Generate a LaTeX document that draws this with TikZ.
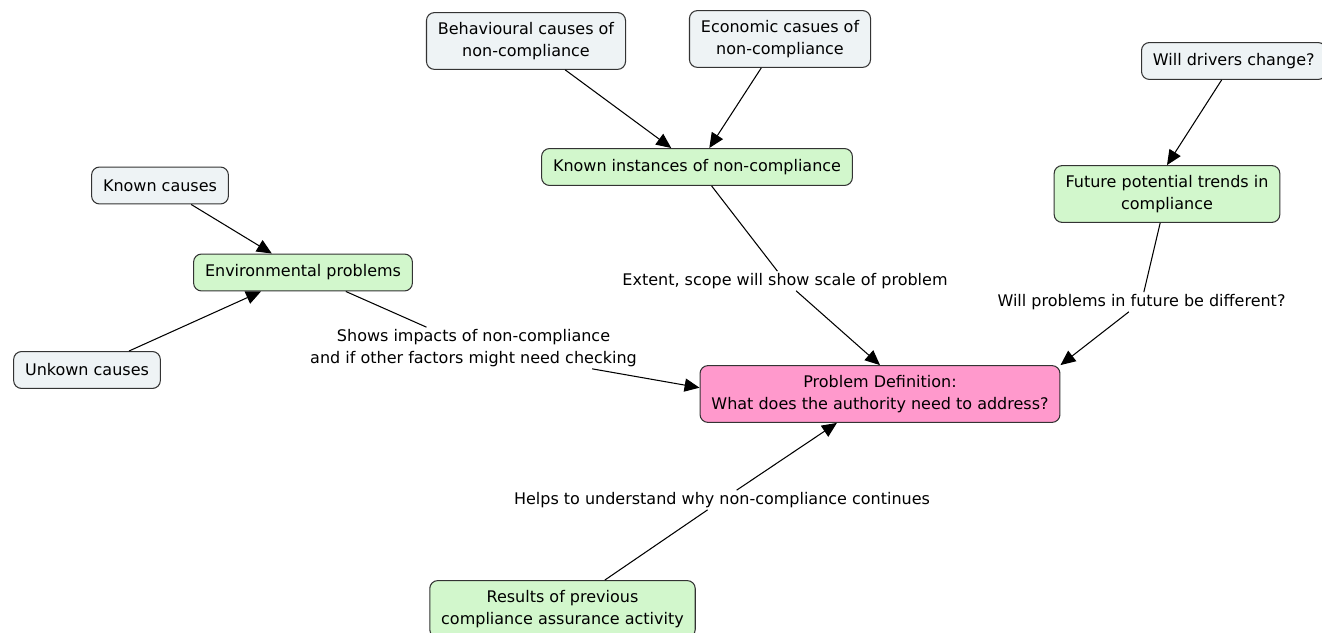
\documentclass[tikz,border=0pt]{standalone}
\usepackage{fontspec}
\setmainfont{DejaVu Sans}
\usepackage{tikz}
\usetikzlibrary{arrows.meta}

\definecolor{causegray}{HTML}{EEF3F5}
\definecolor{topicgreen}{HTML}{D2F7CC}
\definecolor{goalpink}{HTML}{FF99CC}

\begin{document}
\begin{tikzpicture}[
    font=\fontsize{9.1}{12.5}\selectfont,
    concept/.style={draw=black!80, line width=0.6pt, rounded corners=4.5pt, align=center, inner xsep=6.5pt, inner ysep=5.5pt, minimum height=21pt},
    cause/.style={concept, fill=causegray},
    topic/.style={concept, fill=topicgreen},
    goal/.style={concept, fill=goalpink},
    linkphrase/.style={inner sep=1pt, align=center},
    link/.style={line width=0.6pt, -{Triangle[length=8.5pt, width=7.5pt]}}
]
    \useasboundingbox (0, 0) rectangle (26.44, 12.64);

    \node[cause] (behav) at (10.52, 11.82) {Behavioural causes of\\non-compliance};
    \node[cause] (econ) at (15.6, 11.86) {Economic casues of\\non-compliance};
    \node[topic] (known) at (13.94, 9.3) {Known instances of non-compliance};

    \node[cause, anchor=west] (drivers) at (22.82, 11.42) {Will drivers change?};
    \node[topic] (future) at (23.34, 8.76) {Future potential trends in\\compliance};

    \node[cause] (kcause) at (3.2, 8.93) {Known causes};
    \node[topic] (env) at (6.06, 7.19) {Environmental problems};
    \node[cause] (ucause) at (1.74, 5.24) {Unkown causes};

    \node[goal] (prob) at (17.6, 4.76) {Problem Definition:\\What does the authority need to address?};
    \node[topic] (result) at (11.25, 0.46) {Results of previous\\compliance assurance activity};

    \node[linkphrase] (lext) at (15.7, 7.02) {Extent, scope will show scale of problem};
    \node[linkphrase] (lfut) at (22.83, 6.6) {Will problems in future be different?};
    \node[linkphrase] (limp) at (9.47, 5.68) {Shows impacts of non-compliance\\and if other factors might need checking};
    \node[linkphrase] (lhelp) at (14.44, 2.64) {Helps to understand why non-compliance continues};

    \draw[link] (behav) -- (known);
    \draw[link] (econ) -- (known);
    \draw[link] (known) -- (lext) -- (prob.north);

    \draw[link] (drivers) -- (future.north);
    \draw[link] (future) -- (lfut) -- (prob.north east);

    \draw[link] (kcause) -- (env);
    \draw[link] (ucause) -- (env);
    \draw[link] (env) -- (limp) -- (prob.178);

    \draw[link] (result) -- (lhelp) -- (prob);
\end{tikzpicture}
\end{document}
